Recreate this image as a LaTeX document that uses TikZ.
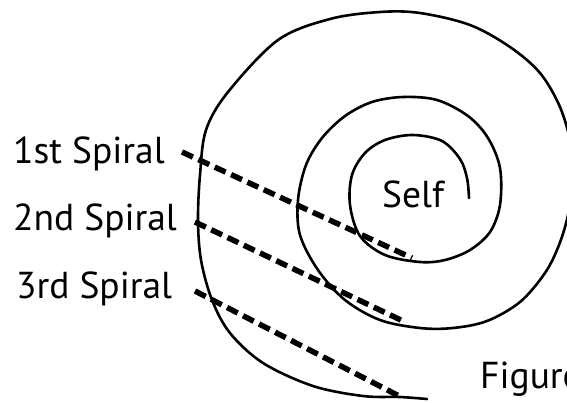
\documentclass[tikz,border=0pt]{standalone}
\usepackage{fontspec}
\setmainfont{PT Sans}
\begin{document}
\begin{tikzpicture}[x=1pt,y=-1pt,
  spiralline/.style={line width=2.6pt, line cap=round, line join=round},
  leader/.style={line width=5.5pt, dash pattern=on 12pt off 6pt},
  lbl/.style={anchor=base west, inner sep=0pt, font=\fontsize{37.5}{37.5}\selectfont}]
\useasboundingbox (0,0) rectangle (567,402);
% spiral
\draw[spiralline] plot[smooth, tension=0.55] coordinates {
 (427,399) (400,397) (363,396) (313,386) (263,363) (230,333) (212,300)
 (201,260) (198,220) (200,175) (206,130) (228,92) (278,40) (330,19)
 (380,12) (420,13) (470,25) (510,47) (540,73) (560,107) (571,145)
 (573,180) (568,215) (559,245) (545,273) (520,302) (487,321) (453,328)
 (420,328) (380,320) (345,300) (318,270) (300,235) (298,200) (306,165)
 (322,138) (345,116) (372,102) (403,97) (437,100) (468,116) (488,138)
 (500,168) (500,205) (490,232) (470,250) (445,260) (420,262) (385,255)
 (360,236) (350,205) (352,175) (365,153) (385,140) (413,135) (442,141)
 (460,159) (467,178) (469,198)};
% labels
\node[lbl] (s1) at (13,163) {1st Spiral};
\node[lbl] (s2) at (13,230) {2nd Spiral};
\node[lbl] (s3) at (16,298) {3rd Spiral};
\node[lbl] (self) at (382,207) {Self};
\node[lbl] (fig) at (480,388) {Figure};
% leader lines
\coordinate (a1) at (182,152); \coordinate (b1) at (412,258);
\coordinate (a2) at (195,222); \coordinate (b2) at (405,322);
\coordinate (a3) at (195,291); \coordinate (b3) at (403,398);
\draw[leader] (a1) -- (b1);
\draw[leader] (a2) -- (b2);
\draw[leader] (a3) -- (b3);
\end{tikzpicture}
\end{document}
